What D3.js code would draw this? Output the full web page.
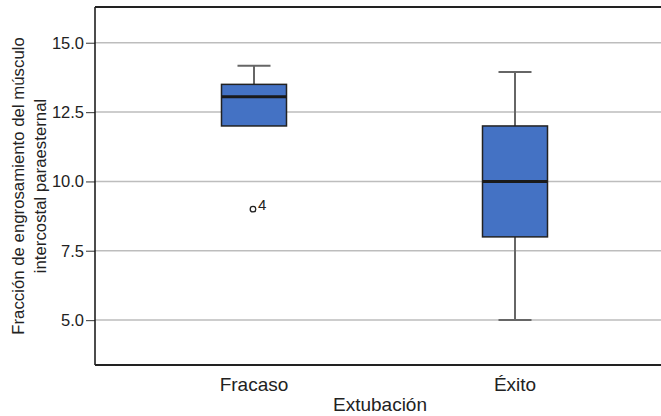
<!DOCTYPE html>
<html>
<head>
<meta charset="utf-8">
<script src="https://cdn.jsdelivr.net/npm/d3@7"></script>
<style>
  html, body { margin: 0; padding: 0; background: #fff; }
  svg { display: block; font-family: "Liberation Sans", Arial, Helvetica, sans-serif; }
</style>
</head>
<body>
<svg id="chart" width="661" height="416"></svg>
<script>
// ---- Data ----
const categories  = ["Fracaso", "Éxito"];
const whiskerLow  = [12.0, 5.0];
const q1          = [12.0, 8.0];
const median      = [13.05, 10.0];
const q3          = [13.5, 12.0];
const whiskerHigh = [14.17, 13.95];
const outlierCats   = ["Fracaso"];
const outlierValues = [9.0];
const outlierLabels = ["4"];
const yTicks = [5.0, 7.5, 10.0, 12.5, 15.0];
const yDomain = [3.38, 16.29];
const xTitle = "Extubación";
const yTitleLines = ["Fracción de engrosamiento del músculo", "intercostal paraesternal"];

// ---- Layout ----
const W = 661, H = 416;
const margin = { top: 7, right: 0, bottom: 51, left: 95 };
const plotW = W - margin.left - margin.right;
const plotH = H - margin.top - margin.bottom;

const svg = d3.select("#chart");
const g = svg.append("g").attr("transform", `translate(${margin.left},${margin.top})`);

const y = d3.scaleLinear().domain(yDomain).range([plotH, 0]);
const x = d3.scalePoint().domain(categories).range([159, 420]);

// gridlines
g.append("g").selectAll("line").data(yTicks).join("line")
  .attr("x1", 0).attr("x2", plotW)
  .attr("y1", d => y(d)).attr("y2", d => y(d))
  .attr("stroke", "#bdbdbd").attr("stroke-width", 1.5);

// y axis
const yAxis = g.append("g")
  .call(d3.axisLeft(y).tickValues(yTicks).tickFormat(d3.format(".1f")).tickSize(9).tickPadding(2));
yAxis.select(".domain").remove();
yAxis.selectAll(".tick line").attr("stroke", "#555").attr("stroke-width", 1.2);
yAxis.selectAll(".tick text").attr("fill", "#222").style("font-size", "16.5px")
  .style("font-family", "'Liberation Sans', Arial, sans-serif");

// frame: left, top, bottom
g.append("line").attr("x1", 0).attr("x2", 0).attr("y1", 0).attr("y2", plotH)
  .attr("stroke", "#111").attr("stroke-width", 1.5);
g.append("line").attr("x1", 0).attr("x2", plotW).attr("y1", 0).attr("y2", 0)
  .attr("stroke", "#222").attr("stroke-width", 1.8);
g.append("line").attr("x1", 0).attr("x2", plotW).attr("y1", plotH).attr("y2", plotH)
  .attr("stroke", "#222").attr("stroke-width", 1.8);

// boxes
const boxW = 65, capW = 33;
const rows = categories.map((c, i) => ({
  c, lo: whiskerLow[i], q1: q1[i], med: median[i], q3: q3[i], hi: whiskerHigh[i]
}));

const bx = g.append("g").selectAll("g").data(rows).join("g");
// whiskers
bx.append("line").attr("x1", d => x(d.c)).attr("x2", d => x(d.c))
  .attr("y1", d => y(d.q3)).attr("y2", d => y(d.hi))
  .attr("stroke", "#666").attr("stroke-width", 2);
bx.append("line").attr("x1", d => x(d.c)).attr("x2", d => x(d.c))
  .attr("y1", d => y(d.q1)).attr("y2", d => y(d.lo))
  .attr("stroke", "#666").attr("stroke-width", 2);
bx.append("line").attr("x1", d => x(d.c) - capW / 2).attr("x2", d => x(d.c) + capW / 2)
  .attr("y1", d => y(d.hi)).attr("y2", d => y(d.hi))
  .attr("stroke", "#666").attr("stroke-width", 2);
bx.filter(d => d.lo < d.q1).append("line")
  .attr("x1", d => x(d.c) - capW / 2).attr("x2", d => x(d.c) + capW / 2)
  .attr("y1", d => y(d.lo)).attr("y2", d => y(d.lo))
  .attr("stroke", "#666").attr("stroke-width", 2);
// box
bx.append("rect").attr("x", d => x(d.c) - boxW / 2).attr("width", boxW)
  .attr("y", d => y(d.q3)).attr("height", d => y(d.q1) - y(d.q3))
  .attr("fill", "#4472c4").attr("stroke", "#222").attr("stroke-width", 1.5);
// median
bx.append("line").attr("x1", d => x(d.c) - boxW / 2).attr("x2", d => x(d.c) + boxW / 2)
  .attr("y1", d => y(d.med)).attr("y2", d => y(d.med))
  .attr("stroke", "#1a1a1a").attr("stroke-width", 3);

// outliers
const outs = outlierCats.map((c, i) => ({ c, v: outlierValues[i], lab: outlierLabels[i] }));
g.append("g").selectAll("circle").data(outs).join("circle")
  .attr("cx", d => x(d.c) - 1).attr("cy", d => y(d.v)).attr("r", 2.8)
  .attr("fill", "#fff").attr("stroke", "#222").attr("stroke-width", 1.3);
g.append("g").selectAll("text").data(outs).join("text")
  .attr("x", d => x(d.c) + 4).attr("y", d => y(d.v) + 1)
  .attr("fill", "#222").style("font-size", "15px").text(d => d.lab);

// x category labels
g.append("g").selectAll("text").data(categories).join("text")
  .attr("x", d => x(d)).attr("y", plotH + 26)
  .attr("text-anchor", "middle").attr("fill", "#222").style("font-size", "19px")
  .text(d => d);

// x title
svg.append("text").attr("x", margin.left + x(categories[0]) + 126).attr("y", 411)
  .attr("text-anchor", "middle").attr("fill", "#222").style("font-size", "19px")
  .text(xTitle);

// y title
const yt = svg.append("text")
  .attr("transform", `translate(0, ${margin.top + plotH / 2}) rotate(-90)`)
  .attr("text-anchor", "middle").attr("fill", "#222").style("font-size", "16.8px");
yt.selectAll("tspan").data(yTitleLines).join("tspan")
  .attr("x", 0).attr("y", (d, i) => 24 + i * 22).text(d => d);
</script>
</body>
</html>
